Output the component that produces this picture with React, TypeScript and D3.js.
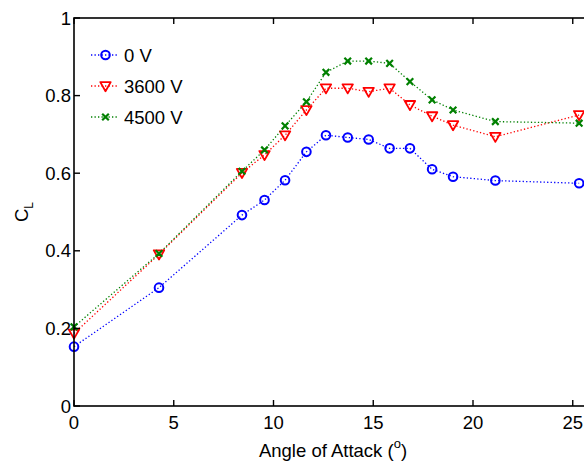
import React from "react";
import * as d3 from "d3";

const angles = [0, 4.26, 8.42, 9.55, 10.58, 11.65, 12.63, 13.72, 14.77, 15.82, 16.84, 17.95, 19.0, 21.12, 25.32];
const cl0V = [0.153, 0.305, 0.492, 0.531, 0.582, 0.655, 0.698, 0.692, 0.687, 0.664, 0.664, 0.61, 0.591, 0.581, 0.574];
const cl3600V = [0.187, 0.391, 0.601, 0.647, 0.698, 0.763, 0.819, 0.819, 0.81, 0.819, 0.776, 0.747, 0.724, 0.694, 0.75];
const cl4500V = [0.204, 0.393, 0.605, 0.66, 0.722, 0.784, 0.86, 0.889, 0.889, 0.883, 0.836, 0.789, 0.763, 0.733, 0.729];
const seriesNames = ["0 V", "3600 V", "4500 V"];
const xTicks = [0, 5, 10, 15, 20, 25];
const yTicks = [0, 0.2, 0.4, 0.6, 0.8, 1];

const W = 584;
const H = 464;
const FONT = "'Liberation Sans', Arial, sans-serif";

export default function App() {
  const x = d3.scaleLinear().domain([0, 26]).range([74, 74 + 26 * 19.95]);
  const y = d3.scaleLinear().domain([0, 1]).range([406, 18]);
  const x0 = x.range()[0];
  const x1 = x.range()[1];
  const y0 = y.range()[0];
  const y1 = y.range()[1];

  const series = [
    { name: seriesNames[0], values: cl0V, color: "#0000ff", marker: "circle" },
    { name: seriesNames[1], values: cl3600V, color: "#ff0000", marker: "tri" },
    { name: seriesNames[2], values: cl4500V, color: "#008000", marker: "x" },
  ];

  const line = d3
    .line<[number, number]>()
    .x((d) => x(d[0]))
    .y((d) => y(d[1]));

  const marker = (type: string, cx: number, cy: number, color: string, key: string | number) => {
    if (type === "circle") {
      return <circle key={key} cx={cx} cy={cy} r={4.3} fill="none" stroke={color} strokeWidth={2} />;
    }
    if (type === "tri") {
      const s = 5.2;
      const p = `M${cx - s},${cy - s * 0.75} L${cx + s},${cy - s * 0.75} L${cx},${cy + s} Z`;
      return <path key={key} d={p} fill="none" stroke={color} strokeWidth={1.8} strokeLinejoin="round" />;
    }
    const s = 3.3;
    return (
      <path
        key={key}
        d={`M${cx - s},${cy - s} L${cx + s},${cy + s} M${cx - s},${cy + s} L${cx + s},${cy - s}`}
        stroke={color}
        strokeWidth={2.2}
        fill="none"
      />
    );
  };

  return (
    <svg
      width={W}
      height={H}
      style={{ position: "absolute", left: 0, top: 0, background: "#fff" }}
      fontFamily={FONT}
    >
      <rect x={0} y={0} width={W} height={H} fill="#fff" />
      {/* series */}
      {series.map((s, si) => {
        const pts = angles.map((a, i) => [a, s.values[i]] as [number, number]);
        return (
          <g key={si}>
            <path d={line(pts) || ""} fill="none" stroke={s.color} strokeWidth={1.3} strokeDasharray="1.3,2.2" />
            {pts.map((p, i) => marker(s.marker, x(p[0]), y(p[1]), s.color, i))}
          </g>
        );
      })}
      {/* axes box */}
      <rect x={x0} y={y1} width={x1 - x0} height={y0 - y1} fill="none" stroke="#000" strokeWidth={1.6} />
      {xTicks.map((t) => (
        <g key={"xt" + t}>
          <line x1={x(t)} x2={x(t)} y1={y0} y2={y0 - 6} stroke="#000" strokeWidth={1.4} />
          <line x1={x(t)} x2={x(t)} y1={y1} y2={y1 + 6} stroke="#000" strokeWidth={1.4} />
          <text x={x(t)} y={429} fontSize={18.5} textAnchor="middle" fill="#000">
            {t}
          </text>
        </g>
      ))}
      {yTicks.map((t) => (
        <g key={"yt" + t}>
          <line x1={x0} x2={x0 + 6} y1={y(t)} y2={y(t)} stroke="#000" strokeWidth={1.4} />
          <line x1={x1} x2={x1 - 6} y1={y(t)} y2={y(t)} stroke="#000" strokeWidth={1.4} />
          <text x={71} y={y(t) + 6.5} fontSize={18.5} textAnchor="end" fill="#000">
            {t}
          </text>
        </g>
      ))}
      {/* x label */}
      <text x={333} y={457} fontSize={18.5} textAnchor="middle" fill="#000">
        Angle of Attack (
        <tspan fontSize={13} dy={-9}>
          o
        </tspan>
        <tspan dy={9}>)</tspan>
      </text>
      {/* y label */}
      <text transform={`translate(28,222) rotate(-90)`} fontSize={18.5} fill="#000">
        C
        <tspan fontSize={12} dy={5}>
          L
        </tspan>
      </text>
      {/* legend */}
      {series.map((s, i) => {
        const ly = 55 + i * 31;
        return (
          <g key={"lg" + i}>
            <line x1={91} x2={118} y1={ly} y2={ly} stroke={s.color} strokeWidth={1.3} strokeDasharray="1.3,2.2" />
            {marker(s.marker, 105.5, ly, s.color, "m")}
            <text x={124} y={ly + 7} fontSize={18.5} fill="#000">
              {s.name}
            </text>
          </g>
        );
      })}
    </svg>
  );
}
